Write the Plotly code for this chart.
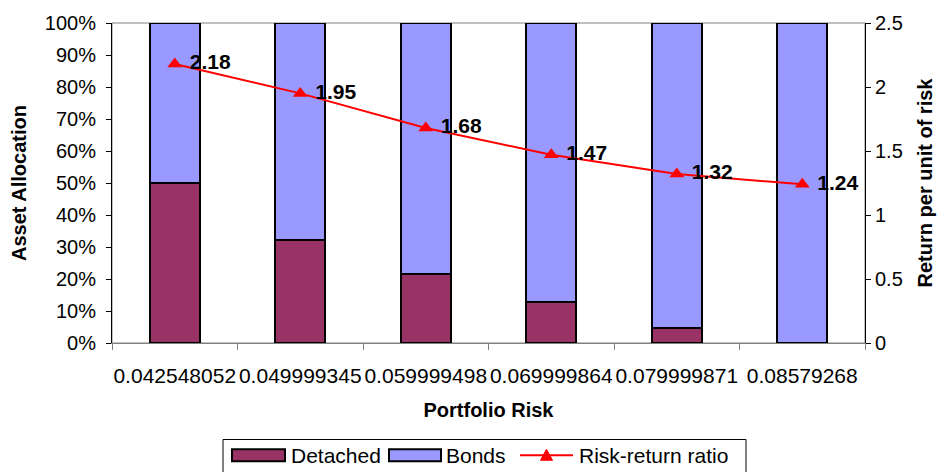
import plotly.graph_objects as go

# Portfolio risk levels (category labels on the x axis)
risk_labels = ["0.042548052", "0.049999345", "0.059999498",
               "0.069999864", "0.079999871", "0.08579268"]

# Asset allocation shares (fractions of the portfolio)
detached = [0.50, 0.323, 0.216, 0.129, 0.048, 0.0]
bonds = [0.50, 0.677, 0.784, 0.871, 0.952, 1.0]

# Return per unit of risk
risk_return = [2.18, 1.95, 1.68, 1.47, 1.32, 1.24]

series_names = ["Detached", "Bonds", "Risk-return ratio"]
colors = ["#993366", "#9999FF", "#FF0000"]

FONT = "Liberation Sans, Arial, sans-serif"
W, H = 945, 472
L, R, T, B = 112, 80, 18, 129

fig = go.Figure()
fig.add_trace(go.Bar(x=risk_labels, y=detached, name=series_names[0],
                     marker=dict(color=colors[0], line=dict(color="black", width=2)),
                     width=0.4, showlegend=False))
fig.add_trace(go.Bar(x=risk_labels, y=bonds, name=series_names[1],
                     marker=dict(color=colors[1], line=dict(color="black", width=2)),
                     width=0.4, showlegend=False))
fig.add_trace(go.Scatter(x=risk_labels, y=risk_return, name=series_names[2], yaxis="y2",
                         mode="lines+markers+text",
                         line=dict(color=colors[2], width=2),
                         marker=dict(symbol="triangle-up", size=13, color=colors[2]),
                         text=[f" {v:.2f}" for v in risk_return],
                         textposition="middle right",
                         textfont=dict(family=FONT, size=21, color="black", weight="bold"),
                         showlegend=False, cliponaxis=False))

# helpers: page pixels -> paper coordinates
pw, ph = W - L - R, H - T - B
def px(x):
    return (x - L) / pw
def py(y):
    return (H - B - y) / ph

shapes = [
    # plot area frame
    dict(type="rect", xref="paper", yref="paper", x0=0, x1=1, y0=0, y1=1,
         line=dict(color="#808080", width=1), layer="below"),
    # legend frame
    dict(type="rect", xref="paper", yref="paper", x0=px(223), x1=px(746), y0=py(441), y1=py(478),
         line=dict(color="black", width=1), fillcolor="white"),
    # legend swatches
    dict(type="rect", xref="paper", yref="paper", x0=px(232), x1=px(285), y0=py(451), y1=py(463),
         line=dict(color="black", width=2), fillcolor=colors[0]),
    dict(type="rect", xref="paper", yref="paper", x0=px(389), x1=px(441), y0=py(451), y1=py(463),
         line=dict(color="black", width=2), fillcolor=colors[1]),
    dict(type="line", xref="paper", yref="paper", x0=px(520), x1=px(573), y0=py(457), y1=py(457),
         line=dict(color=colors[2], width=2)),
    dict(type="path", xref="paper", yref="paper", xsizemode="pixel", ysizemode="pixel",
         xanchor=px(546.5), yanchor=py(457), path="M-6,-5 L6,-5 L0,6 Z",
         fillcolor=colors[2], line=dict(color=colors[2], width=1)),
]

annotations = [
    dict(text=series_names[0], x=px(289), y=py(457)),
    dict(text=series_names[1], x=px(444), y=py(457)),
    dict(text=series_names[2], x=px(577), y=py(457)),
]
annotations = [dict(a, xref="paper", yref="paper", xanchor="left", yanchor="middle",
                    showarrow=False, font=dict(family=FONT, size=21, color="black"))
               for a in annotations]

fig.update_layout(
    width=W, height=H,
    margin=dict(l=L, r=R, t=T, b=B),
    paper_bgcolor="white", plot_bgcolor="white",
    barmode="stack", bargap=0.6,
    font=dict(family=FONT, size=20, color="black"),
    xaxis=dict(type="category", showgrid=False, showline=True, linecolor="#808080",
               ticks="outside", ticklen=6, tickcolor="#808080", tickson="boundaries",
               tickangle=0, tickfont=dict(size=21), ticklabelstandoff=14,
               title=dict(text="<b>Portfolio Risk</b>", font=dict(size=20), standoff=16)),
    yaxis=dict(range=[0, 1], dtick=0.1, tickformat=".0%", showgrid=False, zeroline=False,
               showline=True, linecolor="black", ticks="outside", ticklen=5, tickcolor="black",
               ticklabelstandoff=6,
               title=dict(text="<b>Asset Allocation</b>", font=dict(size=20), standoff=12)),
    yaxis2=dict(range=[0, 2.5], dtick=0.5, overlaying="y", side="right", showgrid=False,
                zeroline=False, showline=True, linecolor="black", ticks="outside", ticklen=5,
                tickcolor="black",
                title=dict(text="<b>Return per unit of risk</b>", font=dict(size=20), standoff=16)),
    shapes=shapes,
    annotations=annotations,
)

fig.write_html("out.html")
